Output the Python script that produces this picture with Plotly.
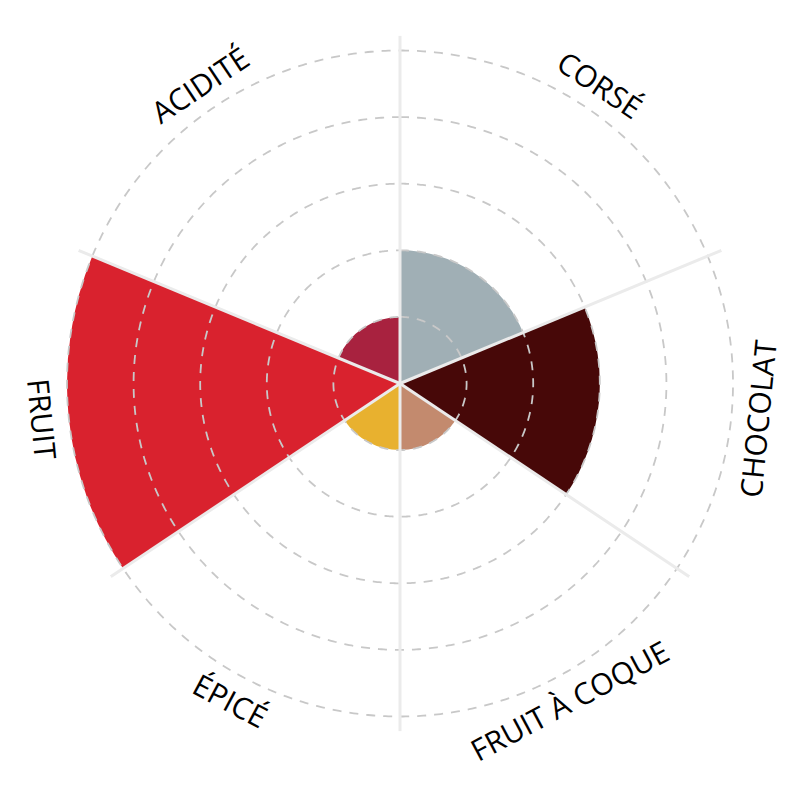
import numpy as np
import plotly.graph_objects as go

# ---- data ----
categories = ["CORSÉ", "CHOCOLAT", "FRUIT À COQUE", "ÉPICÉ", "FRUIT", "ACIDITÉ"]
values = [2, 3, 1, 1, 5, 1]
widths = [67.5, 56.25, 56.25, 56.25, 56.25, 67.5]   # angular width (deg)
colors = ["#A0AFB5", "#470808", "#C38A6E", "#E8B12F", "#D9222E", "#A8223F"]
rings = [1, 2, 3, 4, 5]

R_MAX = 5.225
LABEL_R = 5.4

# sector edges / centers (clockwise from top)
edges = np.concatenate([[0], np.cumsum(widths)])
centers = (edges[:-1] + edges[1:]) / 2

fig = go.Figure()

fig.add_trace(go.Barpolar(
    r=values, theta=centers, width=widths,
    marker=dict(color=colors, line=dict(width=0)),
    hoverinfo="skip", showlegend=False,
))

# grid drawn above the bars
circle_theta = np.linspace(0, 360, 721)
for k in rings:
    fig.add_trace(go.Scatterpolar(
        r=[k] * len(circle_theta), theta=circle_theta, mode="lines",
        line=dict(color="#C8C8C8", width=1.8, dash="9px,8px"),
        hoverinfo="skip", showlegend=False,
    ))
for b in edges[:-1]:
    fig.add_trace(go.Scatterpolar(
        r=[0, R_MAX], theta=[b, b], mode="lines",
        line=dict(color="#EBEBEB", width=3),
        hoverinfo="skip", showlegend=False,
    ))

W, H = 800, 800
ml, mr, mt, mb = 44, 60, 27, 76
pw, ph = W - ml - mr, H - mt - mb
rad_px = min(pw, ph) / 2

annotations = []
for cat, c in zip(categories, centers):
    th = np.deg2rad(90 - c)  # math angle
    thd = (90 - c + 180) % 360 - 180
    rp = LABEL_R / R_MAX * rad_px
    x = 0.5 + rp * np.cos(th) / pw
    y = 0.5 + rp * np.sin(th) / ph
    if np.sin(th) > 0:
        ang = 90 - thd
    else:
        ang = -(thd + 90)
    annotations.append(dict(
        text=cat, x=x, y=y, xref="paper", yref="paper",
        xanchor="center", yanchor="middle", showarrow=False,
        textangle=ang, font=dict(family="Open Sans", size=30, color="#000000"),
    ))

fig.update_layout(
    width=W, height=H,
    margin=dict(l=ml, r=mr, t=mt, b=mb),
    paper_bgcolor="white",
    polar=dict(
        bgcolor="white",
        domain=dict(x=[0, 1], y=[0, 1]),
        radialaxis=dict(range=[0, R_MAX], showgrid=False, showticklabels=False,
                        showline=False, ticks=""),
        angularaxis=dict(rotation=90, direction="clockwise", showgrid=False,
                         showticklabels=False, showline=False, ticks=""),
        bargap=0,
    ),
    annotations=annotations,
    showlegend=False,
)

fig.write_html("out.html", config={"displayModeBar": False})
